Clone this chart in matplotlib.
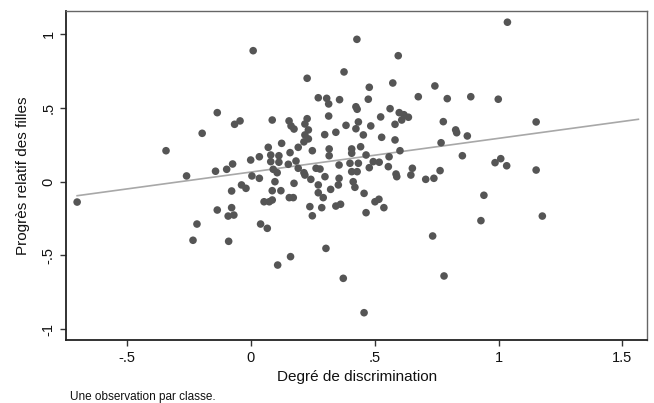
import numpy as np
import matplotlib
matplotlib.use("Agg")
import matplotlib.pyplot as plt

plt.rcParams['font.family'] = ['Liberation Sans', 'DejaVu Sans']

# degree of discrimination (x) and relative progress of girls (y), one point per class
discrimination = [
    0.009, -0.136, -0.066, -0.044, -0.197, -0.343, -0.260, -0.143, -0.098, -0.074,
    -0.001, 0.034, 0.004, 0.034, -0.078, -0.038, -0.020, -0.702, -0.136, -0.078,
    -0.092, -0.069, -0.218, -0.234, -0.090, 0.039, 0.066,
    0.428, 0.376, 0.227, 0.478, 0.272, 0.306, 0.314, 0.358, 0.424, 0.429, 0.474,
    0.086, 0.154, 0.227, 0.218, 0.174, 0.162, 0.232, 0.314, 0.384, 0.434, 0.424,
    0.484, 0.343, 0.298, 0.218, 0.232, 0.214, 0.454,
    0.070, 0.124, 0.191, 0.248, 0.316, 0.316, 0.407, 0.407, 0.443, 0.465, 0.080,
    0.113, 0.158, 0.080, 0.113, 0.151, 0.182, 0.191, 0.214, 0.263, 0.279, 0.356,
    0.400, 0.434, 0.407, 0.429, 0.090, 0.106, 0.097, 0.174, 0.218, 0.242, 0.272,
    0.299, 0.356, 0.353, 0.322, 0.413, 0.420, 0.457, 0.086, 0.121, 0.272, 0.292,
    0.155, 0.171, 0.053, 0.086, 0.074, 0.238, 0.286, 0.343, 0.362, 0.248, 0.465,
    0.303,
    0.595, 0.573, 0.743, 0.676, 0.793, 0.888, 0.562, 0.524, 0.599, 0.618, 0.636,
    0.609, 0.582, 0.777, 0.827, 0.831, 0.874, 0.528, 0.582,
    0.768, 0.602, 0.558, 0.854, 0.494, 0.518, 0.478, 0.555, 0.586, 0.589, 0.652,
    0.646, 0.706, 0.739, 0.764, 0.501, 0.517, 0.537, 0.941, 0.929, 0.734,
    1.036, 0.999, 1.152, 1.009, 0.986, 1.033, 1.152, 1.177,
    0.108, 0.160, 0.373, 0.457, 0.780,
]
progres_filles = [
    0.888, 0.468, 0.389, 0.412, 0.328, 0.210, 0.039, 0.071, 0.084, 0.120,
    0.147, 0.169, 0.039, 0.023, -0.063, -0.022, -0.045, -0.138, -0.192, -0.176,
    -0.233, -0.226, -0.287, -0.397, -0.404, -0.287, -0.316,
    0.965, 0.744, 0.701, 0.640, 0.569, 0.565, 0.527, 0.556, 0.508, 0.491, 0.559,
    0.418, 0.412, 0.427, 0.391, 0.357, 0.378, 0.351, 0.445, 0.382, 0.405, 0.359,
    0.378, 0.335, 0.319, 0.317, 0.290, 0.270, 0.317,
    0.233, 0.260, 0.233, 0.210, 0.222, 0.176, 0.222, 0.193, 0.237, 0.181, 0.181,
    0.176, 0.197, 0.136, 0.132, 0.118, 0.140, 0.091, 0.061, 0.091, 0.086, 0.113,
    0.125, 0.125, 0.068, 0.068, 0.084, 0.061, 0.000, -0.011, 0.045, 0.016, -0.022,
    0.034, 0.023, -0.022, -0.052, 0.000, -0.038, -0.079, -0.061, -0.061, -0.075, -0.108,
    -0.108, -0.108, -0.136, -0.124, -0.136, -0.169, -0.176, -0.165, -0.153, -0.231, -0.210,
    -0.452,
    0.854, 0.669, 0.649, 0.576, 0.563, 0.576, 0.495, 0.439, 0.468, 0.454, 0.437,
    0.418, 0.389, 0.407, 0.351, 0.332, 0.310, 0.301, 0.283,
    0.264, 0.210, 0.169, 0.176, 0.136, 0.132, 0.095, 0.102, 0.052, 0.034, 0.091,
    0.045, 0.016, 0.023, 0.075, -0.136, -0.119, -0.176, -0.092, -0.264, -0.368,
    1.081, 0.559, 0.405, 0.156, 0.129, 0.108, 0.079, -0.233,
    -0.565, -0.508, -0.655, -0.888, -0.639,
]

# fitted line (intercept, slope, right end of its range)
fit_intercept = 0.0654
fit_slope = 0.2285
fit_xmax = 1.565

x_ticks = [-0.5, 0, 0.5, 1, 1.5]
x_ticklabels = ['-.5', '0', '.5', '1', '1.5']
y_ticks = [-1, -0.5, 0, 0.5, 1]
y_ticklabels = ['-1', '-.5', '0', '.5', '1']

x = np.array(discrimination)
y = np.array(progres_filles)

fig = plt.figure(figsize=(6.54, 4.03), dpi=100)
ax = fig.add_axes([66/654, 63/403, (647.3-66)/654, 329/403])

ax.scatter(x, y, s=30, color='#555555', edgecolors='none', zorder=3)

xf = np.array([x.min(), fit_xmax])
ax.plot(xf, fit_intercept + fit_slope * xf, color='#a8a8a8', lw=1.2, zorder=2)

ax.set_xlim(-0.747, 1.601)
ax.set_ylim(-1.073, 1.157)

ax.set_xticks(x_ticks)
ax.set_xticklabels(x_ticklabels)
ax.set_yticks(y_ticks)
ax.set_yticklabels(y_ticklabels, rotation=90, va='center')
ax.tick_params(axis='both', direction='out', length=4.5, width=1, color='#333333',
               labelsize=10.5, labelcolor='#111111')
ax.tick_params(axis='y', pad=3)
ax.tick_params(axis='x', pad=3.5)

for side in ['left', 'bottom']:
    ax.spines[side].set_color('#222222')
    ax.spines[side].set_linewidth(1.3)
for side in ['top', 'right']:
    ax.spines[side].set_color('#666666')
    ax.spines[side].set_linewidth(1.0)

ax.set_xlabel('Degré de discrimination', fontsize=11, color='#111111')
ax.set_ylabel('Progrès relatif des filles', fontsize=11, color='#111111')
ax.xaxis.set_label_coords(0.5, -0.091)
ax.yaxis.set_label_coords(-0.062, 0.5)

fig.text(70/654, 1 - 397/403, 'Une observation par classe.', fontsize=8.5,
         color='#111111', va='center', ha='left')

fig.savefig('out.png', dpi=100)
